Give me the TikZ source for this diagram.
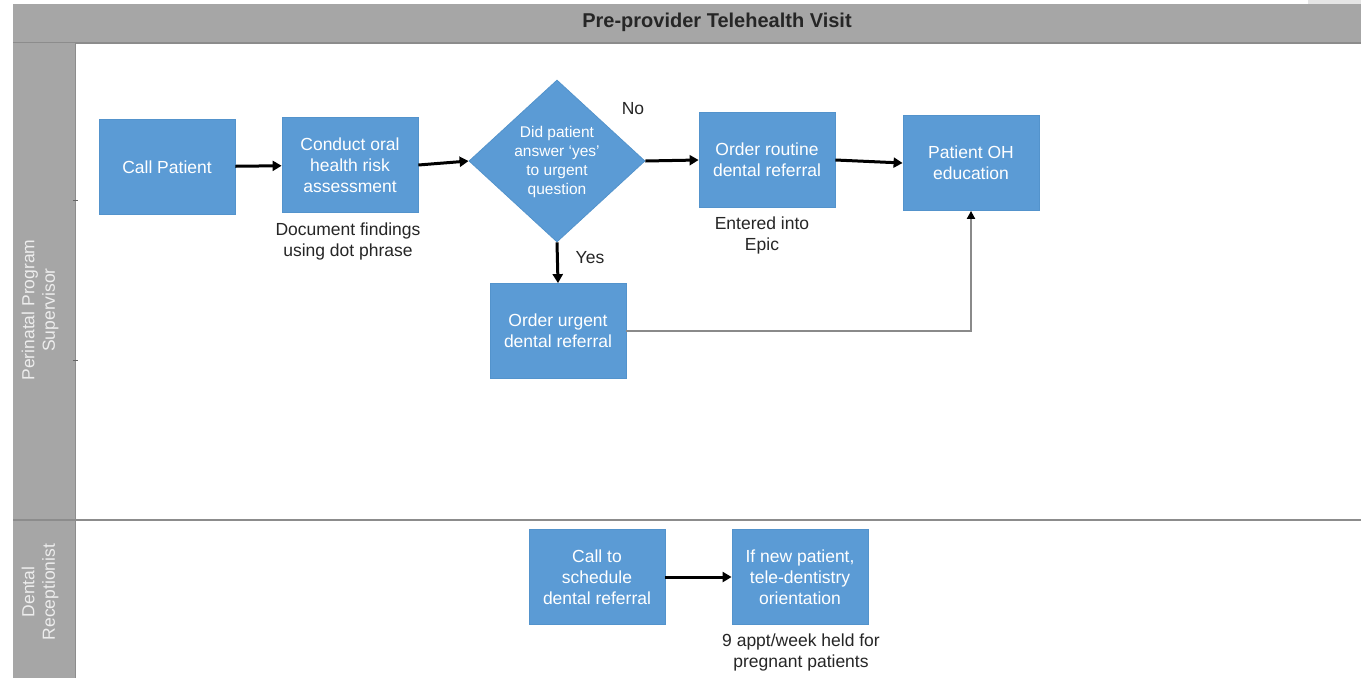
\documentclass[tikz,border=0pt]{standalone}
\usepackage{fontspec}
\setmainfont{Liberation Sans}
\usetikzlibrary{shapes.geometric,arrows.meta}
\definecolor{boxblue}{HTML}{5B9BD5}
\definecolor{boxedge}{HTML}{5393CC}
\definecolor{lanegray}{HTML}{A6A6A6}
\definecolor{lanetext}{HTML}{EDEDED}
\definecolor{linegray}{HTML}{8C8C8C}
\definecolor{annot}{HTML}{262626}
\definecolor{thinline}{HTML}{8A8A8A}
\begin{document}
\begin{tikzpicture}[x=1pt,y=-1pt,
  procbox/.style={rectangle, fill=boxblue, draw=boxedge, line width=0.8pt, text=white,
    font=\fontsize{17.5}{21}\selectfont, align=center, minimum width=136pt, minimum height=95pt, inner sep=2pt},
  decbox/.style={diamond, fill=boxblue, draw=boxedge, line width=0.8pt, inner sep=0pt,
    minimum width=176pt, minimum height=162pt},
  dectext/.style={text=white, font=\fontsize{15.5}{19}\selectfont, align=center, inner sep=0pt},
  note/.style={text=annot, font=\fontsize{17.5}{21}\selectfont, align=center, inner sep=0pt},
  lanelabel/.style={text=lanetext, font=\fontsize{17.5}{20.5}\selectfont, align=center, rotate=90, inner sep=0pt},
  titletext/.style={text=black!85, font=\fontsize{20}{24}\selectfont\bfseries, inner sep=0pt},
  flow/.style={line width=3pt, black, -{Triangle[length=9pt,width=10pt]}},
  thinflow/.style={line width=1.8pt, thinline, -{Triangle[length=8pt,width=8pt,color=black]}}
]
\useasboundingbox (0,0) rectangle (1361,678);
% background elements
\fill[white] (0,0) rectangle (1361,678);
\fill[black!10] (1308,0) rectangle (1361,4);
\fill[lanegray] (13,4) rectangle (1361,43);
\draw[linegray, line width=1.5pt] (13,43) -- (1361,43);
\fill[lanegray] (13,43) rectangle (75,678);
\draw[black!45, line width=0.8pt] (75,43) -- (75,678);
\draw[black!60, line width=1pt] (73,200) -- (78,200);
\draw[black!60, line width=1pt] (73,360) -- (78,360);
\draw[linegray, line width=1.5pt] (13,520) -- (1361,520);

% titles
\node[titletext] (title) at (717,22) {Pre-provider Telehealth Visit};
\node[lanelabel] (lane1) at (40,310) {Perinatal Program\\Supervisor};
\node[lanelabel] (lane2) at (40,592) {Dental\\Receptionist};

% process nodes
\node[procbox] (call) at (167,167) {Call Patient};
\node[procbox] (assess) at (350,165) {Conduct oral\\health risk\\assessment};
\node[decbox] (dec) at (557,161) {};
\node[dectext] (dectxt) at (557,162) {Did patient\\answer `yes'\\to urgent\\question};
\node[procbox] (routine) at (767,160) {Order routine\\dental referral};
\node[procbox] (ohed) at (971,163) {Patient OH\\education};
\node[procbox] (urgent) at (558,331) {Order urgent\\dental referral};
\node[procbox] (sched) at (597,577) {Call to\\schedule\\dental referral};
\node[procbox] (newpt) at (800,577) {If new patient,\\tele-dentistry\\orientation};

% notes
\node[note] (docnote) at (348,241) {Document findings\\using dot phrase};
\node[note] (epicnote) at (762,235) {Entered into\\Epic};
\node[note] (apptnote) at (801,652) {9 appt/week held for\\pregnant patients};
\node[note] (nolbl) at (633,109) {No};
\node[note] (yeslbl) at (590,258) {Yes};

% connectors
\draw[flow] (call) -- (assess);
\draw[flow] (assess.east) -- (dec.west);
\draw[flow] (dec.east) -- (routine.west);
\draw[flow] (routine.east) -- (ohed.west);
\draw[flow] (dec.south) -- (urgent.north);
\draw[thinflow] (urgent.east) -| (ohed.south);
\draw[flow] (sched) -- (newpt);
\end{tikzpicture}
\end{document}
